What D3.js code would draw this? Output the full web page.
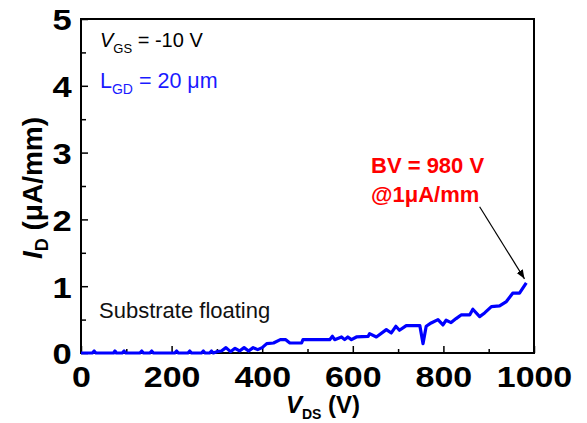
<!DOCTYPE html>
<html><head><meta charset="utf-8">
<script src="https://cdn.jsdelivr.net/npm/d3@7"></script>
<style>
body{margin:0;background:#fff;}
text{font-family:"Liberation Sans",Arial,sans-serif;}
</style></head>
<body><svg id="c" width="587" height="423"></svg>
<script>
const vds = [0,25,29,33,72,75,78,91,95,99,130,134,138,152,156,160,207,211,215,236,240,244,266,270,274,284,288,292,300,310,320,330,340,350,360,370,380,390,400,410,425,440,452,461,487,490,549,555,560,575,582,589,597,608,634,637,652,674,685,695,703,718,748,755,762,773,788,799,806,817,828,839,858,865,880,891,906,924,939,953,968,983];
const idVals = [0,0,0.03,0,0,0.03,0,0,0.03,0,0,0.03,0,0,0.03,0,0,0.03,0,0,0.03,0,0,0.03,0,0,0.03,0,0.02,0.03,0.08,0.02,0.07,0.03,0.08,0.03,0.08,0.05,0.08,0.14,0.15,0.2,0.2,0.15,0.15,0.2,0.2,0.25,0.2,0.24,0.2,0.24,0.2,0.24,0.25,0.29,0.24,0.35,0.3,0.4,0.34,0.41,0.41,0.14,0.4,0.45,0.5,0.42,0.49,0.455,0.515,0.57,0.57,0.655,0.545,0.6,0.695,0.705,0.77,0.895,0.895,1.05];
const xTicks = [0,200,400,600,800,1000];
const xMinor = [100,300,500,700,900];
const yTicks = [0,1,2,3,4,5];
const yMinor = [0.5,1.5,2.5,3.5,4.5];

const m = {l:81, t:19, r:534, b:353};
const svg = d3.select("#c");
const x = d3.scaleLinear().domain([0,1000]).range([m.l, m.r]);
const y = d3.scaleLinear().domain([0,5]).range([m.b, m.t]);

// minor ticks
const gx = svg.append("g").attr("transform",`translate(0,${m.b})`);
gx.call(d3.axisBottom(x).tickValues(xMinor).tickSize(-4).tickFormat(""));
gx.call(g=>g.select(".domain").remove());
const gx2 = svg.append("g").attr("transform",`translate(0,${m.b})`);
gx2.call(d3.axisBottom(x).tickValues(xTicks).tickSize(-7).tickPadding(0).tickFormat(d3.format("d")));
gx2.select(".domain").remove();
gx2.selectAll(".tick text").attr("y",34).attr("dy",0)
  .attr("font-size",29).attr("font-weight","bold").attr("fill","#000")
  .attr("font-family","Liberation Sans, Arial, sans-serif")
  .attr("transform","scale(1.17,1)");

const gy = svg.append("g").attr("transform",`translate(${m.l},0)`);
gy.call(d3.axisLeft(y).tickValues(yMinor).tickSize(-5).tickFormat(""));
gy.select(".domain").remove();
const gy2 = svg.append("g").attr("transform",`translate(${m.l},0)`);
gy2.call(d3.axisLeft(y).tickValues(yTicks).tickSize(-7).tickFormat(d3.format("d")));
gy2.select(".domain").remove();
gy2.selectAll(".tick text").attr("x",-8).attr("dy","0.36em")
  .attr("font-size",30).attr("font-weight","bold").attr("fill","#000")
  .attr("font-family","Liberation Sans, Arial, sans-serif")
  .attr("transform","scale(1.15,1)");
svg.selectAll(".tick line").attr("stroke","#000").attr("stroke-width",1.5);

// frame
svg.append("rect").attr("x",m.l).attr("y",m.t).attr("width",m.r-m.l).attr("height",m.b-m.t)
  .attr("fill","none").attr("stroke","#000").attr("stroke-width",2);

// data line
const pts = vds.map((v,i)=>[v, idVals[i]]);
svg.append("path").datum(pts)
  .attr("d", d3.line().x(d=>x(d[0])).y(d=>y(d[1])))
  .attr("fill","none").attr("stroke","#0000ff").attr("stroke-width",3.2).attr("stroke-linejoin","round");

// annotations
const t1 = svg.append("text").attr("x",100).attr("y",47).attr("font-size",20).attr("fill","#000");
t1.append("tspan").attr("font-style","italic").text("V");
t1.append("tspan").attr("font-size",13).attr("dy",6).text("GS");
t1.append("tspan").attr("dy",-6).text(" = -10 V");

const t2 = svg.append("text").attr("x",100).attr("y",88).attr("font-size",21.5).attr("fill","#1a1aff");
t2.append("tspan").text("L");
t2.append("tspan").attr("font-size",14).attr("dy",6).text("GD");
t2.append("tspan").attr("dy",-6).text(" = 20 μm");

svg.append("text").attr("x",99).attr("y",318).attr("font-size",22).attr("fill","#111").text("Substrate floating");

svg.append("text").attr("x",371).attr("y",173).attr("font-size",22).attr("font-weight","bold").attr("fill","#ff0000").text("BV = 980 V");
svg.append("text").attr("x",371).attr("y",202).attr("font-size",22).attr("font-weight","bold").attr("fill","#ff0000").text("@1μA/mm");

// arrow
const defs = svg.append("defs");
defs.append("marker").attr("id","ah").attr("viewBox","0 0 10 10").attr("refX",10).attr("refY",5)
  .attr("markerWidth",9).attr("markerHeight",9).attr("markerUnits","userSpaceOnUse").attr("orient","auto")
  .append("path").attr("d","M0,1 L10,5 L0,9 Z").attr("fill","#000");
const arrowFrom = [880, 2.19], arrowTo = [979, 1.11];
svg.append("line").attr("x1",x(arrowFrom[0])).attr("y1",y(arrowFrom[1]))
  .attr("x2",x(arrowTo[0])).attr("y2",y(arrowTo[1]))
  .attr("stroke","#000").attr("stroke-width",1.2).attr("marker-end","url(#ah)");

// axis titles
const yt = svg.append("text").attr("transform","translate(42,188) rotate(-90)")
  .attr("text-anchor","middle").attr("font-size",28).attr("font-weight","bold").attr("fill","#000");
yt.append("tspan").attr("font-style","italic").text("I");
yt.append("tspan").attr("font-size",18).attr("dy",6).text("D");
yt.append("tspan").attr("dy",-6).text(" (μA/mm)");

const xt = svg.append("text").attr("x",323).attr("y",413)
  .attr("text-anchor","middle").attr("font-size",24).attr("font-weight","bold").attr("fill","#000");
xt.append("tspan").attr("font-style","italic").text("V");
xt.append("tspan").attr("font-size",14).attr("dy",6).text("DS");
xt.append("tspan").attr("dy",-6).text(" (V)");
</script></body></html>
